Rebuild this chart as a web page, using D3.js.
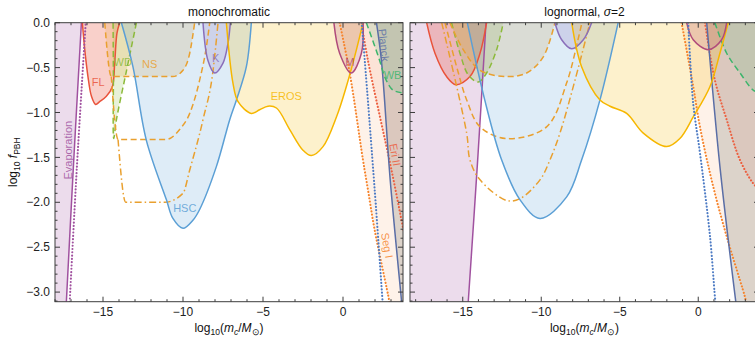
<!DOCTYPE html>
<html>
<head>
<meta charset="utf-8">
<script src="https://cdn.jsdelivr.net/npm/d3@7"></script>
<style>
  body { margin: 0; background: #fff; }
  svg text { font-family: "Liberation Sans", Arial, sans-serif; }
</style>
</head>
<body>
<svg width="755" height="339"></svg>
<script>
// tick values
const xMajor = [-15, -10, -5, 0];
const yMajor = [0, -0.5, -1, -1.5, -2, -2.5, -3];

// ---- monochromatic panel: [log10 mc/Msun, log10 fPBH] ----
const evapMono    = [[-17.29,-3.107],[-16.85,-1.6],[-16.35,0]];
const evapDotMono = [[-17.08,-3.107],[-16.63,-1.6],[-16.08,0]];
const flMono   = [[-16.29,0],[-16.14,-0.3],[-15.94,-0.6],[-15.72,-0.82],[-15.46,-0.91],[-15.21,-0.88],[-14.79,-0.82],[-14.41,-0.71],[-14.27,-0.45],[-14.13,-0.12],[-13.96,0]];
const wdMono   = [[-14.37,0],[-14.35,-0.6],[-14.33,-1.29],[-14.16,-1.08],[-13.55,-0.55],[-12.91,0]];
const nsMono   = [[-14.89,0],[-14.48,-0.6],[-10.64,-0.6],[-10.0,-0.53],[-9.58,-0.34],[-9.27,0]];
const nsMono2  = [[-14.48,-0.6],[-14.06,-1.3],[-11.04,-1.3],[-10.21,-1.19],[-9.58,-1.01],[-8.96,-0.64],[-8.54,-0.27],[-8.33,0]];
const nsMono3  = [[-14.06,-1.3],[-13.58,-2.0],[-11.14,-2.0],[-10.0,-1.9],[-9.58,-1.64],[-8.75,-1.08],[-8.12,-0.53],[-7.81,0]];
const hscMono  = [[-13.85,0],[-13.13,-0.49],[-12.29,-1.31],[-11.04,-1.97],[-10.63,-2.18],[-10.0,-2.29],[-9.38,-2.2],[-8.96,-2.08],[-7.91,-1.6],[-7.08,-1.08],[-6.66,-0.86],[-6.04,-0.49],[-5.73,0]];
const kMono    = [[-8.75,0],[-8.44,-0.42],[-8.02,-0.56],[-7.5,-0.45],[-7.19,-0.23],[-7.04,0]];
const erosMono = [[-7.29,0],[-6.88,-0.67],[-6.56,-0.88],[-5.73,-1.01],[-5.21,-0.97],[-4.69,-0.93],[-4.16,-0.95],[-3.33,-1.19],[-2.5,-1.42],[-1.98,-1.48],[-1.25,-1.38],[-0.41,-1.05],[0.21,-0.71],[0.84,-0.3],[1.25,0]];
const mMono    = [[-0.57,0],[-0.21,-0.34],[0.52,-0.56],[1.15,-0.34],[1.26,0]];
const planckMono = [[2.09,0],[2.4,-0.42],[2.95,-1.75],[3.61,-3.01],[3.67,-3.12]];
const wbMono   = [[1.46,0],[2.29,-0.42],[2.6,-0.6],[3.0,-0.73],[3.23,-0.76],[3.65,-0.78],[3.8,-0.78]];
const eriMono  = [[1.15,0],[1.56,-0.42],[3.03,-1.64],[3.8,-2.33]];
const segMono  = [[-0.21,0],[0.42,-0.56],[1.25,-1.53],[1.56,-1.86],[1.98,-2.31],[2.88,-3.09],[2.9,-3.12]];
const blueDotMono = [[1.17,0],[1.36,-0.42],[1.98,-1.86],[2.46,-3.07],[2.48,-3.12]];

// ---- lognormal sigma=2 panel ----
const evapLog  = [[-14.65,-3.107],[-14.05,-1.53],[-13.52,0]];
const flLog    = [[-17.3,0],[-16.77,-0.34],[-16.03,-0.6],[-15.43,-0.69],[-14.54,-0.6],[-13.9,-0.34],[-13.48,0]];
const wdLog    = [[-15.71,0],[-15.18,-0.34],[-14.65,-0.58],[-14.01,-0.66],[-13.48,-0.56],[-12.84,-0.3],[-12.42,0]];
const nsLog    = [[-15.82,0],[-14.97,-0.3],[-13.9,-0.53],[-12.2,-0.6],[-10.93,-0.56],[-9.87,-0.38],[-9.13,0]];
const nsLog2   = [[-16.13,0],[-15.39,-0.49],[-14.75,-0.86],[-13.9,-1.16],[-12.2,-1.29],[-9.66,-1.16],[-8.38,-0.67],[-7.66,-0.19],[-7.41,0]];
const nsLog3   = [[-16.34,0],[-14.75,-1.23],[-14.54,-1.53],[-13.9,-1.75],[-12.2,-1.98],[-11.36,-1.96],[-10.08,-1.75],[-9.45,-1.53],[-8.81,-1.23],[-7.85,-0.64],[-6.9,0]];
const hscLog   = [[-14.71,0],[-13.6,-0.86],[-12.52,-1.53],[-11.36,-1.97],[-10.08,-2.18],[-8.38,-1.94],[-7.43,-1.53],[-6.26,-0.86],[-5.1,0]];
const kLog     = [[-9.13,0],[-8.7,-0.19],[-8.06,-0.29],[-7.32,-0.19],[-6.79,0]];
const erosLog  = [[-8.06,0],[-7.43,-0.49],[-6.26,-0.86],[-5.62,-0.93],[-4.56,-1.01],[-3.5,-1.23],[-2.01,-1.38],[-1.17,-1.29],[-0.32,-1.05],[0.75,-0.71],[1.38,-0.34],[1.91,0]];
const mLog     = [[-0.74,0],[-0.32,-0.19],[0.64,-0.3],[1.49,-0.19],[1.81,0]];
const planckLog = [[0.54,0],[1.38,-1.6],[2.4,-3.12]];
const wbLog    = [[1.06,0],[1.81,-0.34],[2.66,-0.56],[3.5,-0.75],[3.9,-0.78]];
const eriLog   = [[0.43,0],[1.06,-0.64],[1.81,-1.08],[2.66,-1.53],[3.5,-1.79],[3.9,-1.86]];
const segLog   = [[-1.06,0],[-0.32,-0.71],[0.11,-1.16],[0.96,-1.83],[1.81,-2.38],[2.66,-2.87],[2.97,-3.05],[3.05,-3.12]];
const blueDotLog = [[-0.64,0],[-0.32,-0.9],[0.11,-1.45],[0.75,-2.38],[1.06,-3.05],[1.1,-3.12]];

// constraint labels (monochromatic panel only)
const monoLabels = [
  {t: "Evaporation", x: -17.2, y: -1.42, c: "evap", r: -90},
  {t: "FL", x: -15.3, y: -0.66, c: "fl", r: 0},
  {t: "WD", x: -13.77, y: -0.44, c: "wd", r: 0},
  {t: "NS", x: -12.08, y: -0.46, c: "ns", r: 0},
  {t: "K", x: -7.96, y: -0.39, c: "k", r: 0},
  {t: "HSC", x: -9.89, y: -2.06, c: "hsc", r: 0},
  {t: "EROS", x: -3.54, y: -0.82, c: "eros", r: 0},
  {t: "M", x: 0.42, y: -0.44, c: "m", r: 0},
  {t: "Planck", x: 2.55, y: -0.25, c: "planck", r: 84},
  {t: "WB", x: 3.1, y: -0.58, c: "wb", r: 0},
  {t: "Eri II", x: 3.25, y: -1.47, c: "eri", r: 80},
  {t: "Seg I", x: 2.75, y: -2.48, c: "seg", r: 80}
];

const col = {
  evap: "#a0519f", fl: "#e9533b", wd: "#8cba3a", ns: "#e9a02f", hsc: "#5b9fd5",
  k: "#8a6fba", eros: "#f6b700", m: "#b04b7b", planck: "#5a6ea6", wb: "#3db56c",
  eri: "#ec5f3f", seg: "#f6832b", blue: "#4d7bc4", grey: "#8f8a86"
};

function layers(s) {
  return [
    {d: s.evap, c: "evap", fill: "left", op: 0.2, st: "solid"},
    {d: s.seg, c: "seg", fill: "right", op: 0.1, st: "dot"},
    {d: s.eri, c: "eri", fill: "right", op: 0.1, st: "dot"},
    {d: s.planck, c: "planck", fillColor: "grey", fill: "right", op: 0.3, st: "solid"},
    {d: s.wb, c: "wb", fill: "right", op: 0.15, st: "dash"},
    {d: s.fl, c: "fl", fill: "top", op: 0.27, st: "solid"},
    {d: s.wd, c: "wd", fill: "top", op: 0.2, st: "dash"},
    {d: s.ns, c: "ns", fill: "top", op: 0.2, st: "dash", flat: s.flat},
    {d: s.ns2, c: "ns", st: "dash", flat: s.flat},
    {d: s.ns3, c: "ns", st: "dashdot", flat: s.flat},
    {d: s.hsc, c: "hsc", fill: "top", op: 0.2, st: "solid"},
    {d: s.k, c: "k", fill: "top", op: 0.2, st: "solid"},
    {d: s.eros, c: "eros", fill: "top", op: 0.2, st: "solid"},
    {d: s.m, c: "m", fill: "top", op: 0.2, st: "solid"},
    {d: s.blueDot, c: "blue", st: "dot"},
    {d: s.evapDot, c: "evap", st: "dot"}
  ].filter(l => l.d);
}

const panels = [
  {x0: 55, x1: 403, dom: [-18, 3.75], yLabels: true, labels: monoLabels,
   title: ["monochromatic"],
   layers: layers({flat: true, evap: evapMono, evapDot: evapDotMono, fl: flMono, wd: wdMono, ns: nsMono, ns2: nsMono2, ns3: nsMono3,
                   hsc: hscMono, k: kMono, eros: erosMono, m: mMono, planck: planckMono, wb: wbMono,
                   eri: eriMono, seg: segMono, blueDot: blueDotMono})},
  {x0: 410, x1: 759, dom: [-18.36, 3.87], yLabels: false, labels: [],
   title: ["lognormal, ", "σ", "=2"],
   layers: layers({flat: false, evap: evapLog, fl: flLog, wd: wdLog, ns: nsLog, ns2: nsLog2, ns3: nsLog3,
                   hsc: hscLog, k: kLog, eros: erosLog, m: mLog, planck: planckLog, wb: wbLog,
                   eri: eriLog, seg: segLog, blueDot: blueDotLog})}
];

const svg = d3.select("svg");
const yTop = 22.7, yBot = 301.7;
const yScale = d3.scaleLinear().domain([-3.107, 0]).range([yBot, yTop]);
const dashes = {solid: null, dash: "6,3.5", dashdot: "7,3,1.5,3", dot: "0.1,3.2"};
const frameCol = "#3c3c3c";
const fmtY = v => (v === 0 ? "0.0" : d3.format(".1f")(v).replace("-", "\u2212"));
const fmtX = v => String(v).replace("-", "\u2212");

panels.forEach((p, i) => {
  const x = d3.scaleLinear().domain(p.dom).range([p.x0, p.x1]);
  const smooth = d3.line().x(d => x(d[0])).y(d => yScale(d[1])).curve(d3.curveCatmullRom.alpha(0.5));
  const flat = d3.line().x(d => x(d[0])).y(d => yScale(d[1])).curve(d3.curveMonotoneX);
  const lineFor = l => (l.flat ? flat : smooth)(l.d);

  svg.append("clipPath").attr("id", "clip" + i).append("rect")
    .attr("x", p.x0).attr("y", yTop).attr("width", p.x1 - p.x0).attr("height", yBot - yTop);
  const plot = svg.append("g").attr("clip-path", `url(#clip${i})`);

  // filled regions
  p.layers.filter(l => l.fill).forEach(l => {
    let path = lineFor(l);
    const first = l.d[0], last = l.d[l.d.length - 1];
    if (l.fill === "left") path += `L${p.x0 - 5},${yScale(last[1])}L${p.x0 - 5},${yScale(first[1]) + 5}Z`;
    else if (l.fill === "right") path += `L${p.x1 + 5},${yScale(last[1])}L${p.x1 + 5},${yScale(0)}Z`;
    else path += "Z";
    plot.append("path").attr("d", path)
      .attr("fill", col[l.fillColor || l.c]).attr("fill-opacity", l.op).attr("stroke", "none");
  });

  // boundary lines
  p.layers.forEach(l => {
    plot.append("path").attr("d", lineFor(l))
      .attr("fill", "none")
      .attr("stroke", col[l.c])
      .attr("stroke-width", l.st === "dot" ? 2.1 : 1.5)
      .attr("stroke-linecap", l.st === "dot" ? "round" : "butt")
      .attr("stroke-dasharray", dashes[l.st]);
  });

  // labels
  p.labels.forEach(lb => {
    plot.append("text")
      .attr("transform", `translate(${x(lb.x)},${yScale(lb.y)}) rotate(${lb.r})`)
      .attr("text-anchor", "middle").attr("dy", "0.35em")
      .attr("font-size", 11).attr("fill", col[lb.c]).attr("fill-opacity", 0.85)
      .text(lb.t);
  });

  // frame
  const fr = svg.append("g");
  fr.append("rect").attr("x", p.x0).attr("y", yTop).attr("width", p.x1 - p.x0).attr("height", yBot - yTop)
    .attr("fill", "none").attr("stroke", frameCol).attr("stroke-width", 1);

  const xMinor = d3.range(-18, 4, 1).filter(v => v >= p.dom[0] && v <= p.dom[1]);
  xMinor.forEach(v => {
    const len = xMajor.includes(v) ? 5 : 2.5;
    fr.append("line").attr("x1", x(v)).attr("x2", x(v)).attr("y1", yBot).attr("y2", yBot - len).attr("stroke", frameCol);
    fr.append("line").attr("x1", x(v)).attr("x2", x(v)).attr("y1", yTop).attr("y2", yTop + len).attr("stroke", frameCol);
  });
  const yMinor = d3.range(0, 32, 1).map(k => -k / 10);
  yMinor.forEach((v, k) => {
    const len = k % 5 === 0 ? 5 : 2.5;
    fr.append("line").attr("x1", p.x0).attr("x2", p.x0 + len).attr("y1", yScale(v)).attr("y2", yScale(v)).attr("stroke", frameCol);
    fr.append("line").attr("x1", p.x1).attr("x2", p.x1 - len).attr("y1", yScale(v)).attr("y2", yScale(v)).attr("stroke", frameCol);
  });

  xMajor.forEach(v => {
    fr.append("text").attr("x", x(v)).attr("y", 316).attr("text-anchor", "middle")
      .attr("font-size", 12).attr("fill", "#222").text(fmtX(v));
  });
  if (p.yLabels) {
    yMajor.forEach(v => {
      fr.append("text").attr("x", p.x0 - 5).attr("y", yScale(v)).attr("dy", "0.35em")
        .attr("text-anchor", "end").attr("font-size", 12).attr("fill", "#222").text(fmtY(v));
    });
  }

  // title
  const cx = (p.x0 + p.x1) / 2;
  const tt = svg.append("text").attr("x", cx).attr("y", 16).attr("text-anchor", "middle")
    .attr("font-size", 12).attr("fill", "#111");
  p.title.forEach(s => tt.append("tspan").attr("font-style", s === "σ" ? "italic" : "normal").text(s));

  // x axis label: log10(mc/M_sun)
  const xl = svg.append("text").attr("x", cx).attr("y", 332).attr("text-anchor", "middle")
    .attr("font-size", 12).attr("fill", "#111");
  xl.append("tspan").text("log");
  xl.append("tspan").attr("font-size", 8.5).attr("dy", 3).text("10");
  xl.append("tspan").attr("dy", -3).text("(");
  xl.append("tspan").attr("font-style", "italic").text("m");
  xl.append("tspan").attr("font-size", 8.5).attr("font-style", "italic").attr("dy", 3).text("c");
  xl.append("tspan").attr("dy", -3).text("/");
  xl.append("tspan").attr("font-style", "italic").text("M");
  xl.append("tspan").attr("font-size", 8.5).attr("dy", 3).text("\u2299");
  xl.append("tspan").attr("dy", -3).text(")");
});

// y axis label: log10 f_PBH
const yl = svg.append("text").attr("transform", `translate(17,${(yTop + yBot) / 2}) rotate(-90)`)
  .attr("text-anchor", "middle").attr("font-size", 12).attr("fill", "#111");
yl.append("tspan").text("log");
yl.append("tspan").attr("font-size", 8.5).attr("dy", 3).text("10");
yl.append("tspan").attr("dy", -3).attr("font-style", "italic").text(" f");
yl.append("tspan").attr("font-size", 8.5).attr("dy", 3).text("PBH");
</script>
</body>
</html>
